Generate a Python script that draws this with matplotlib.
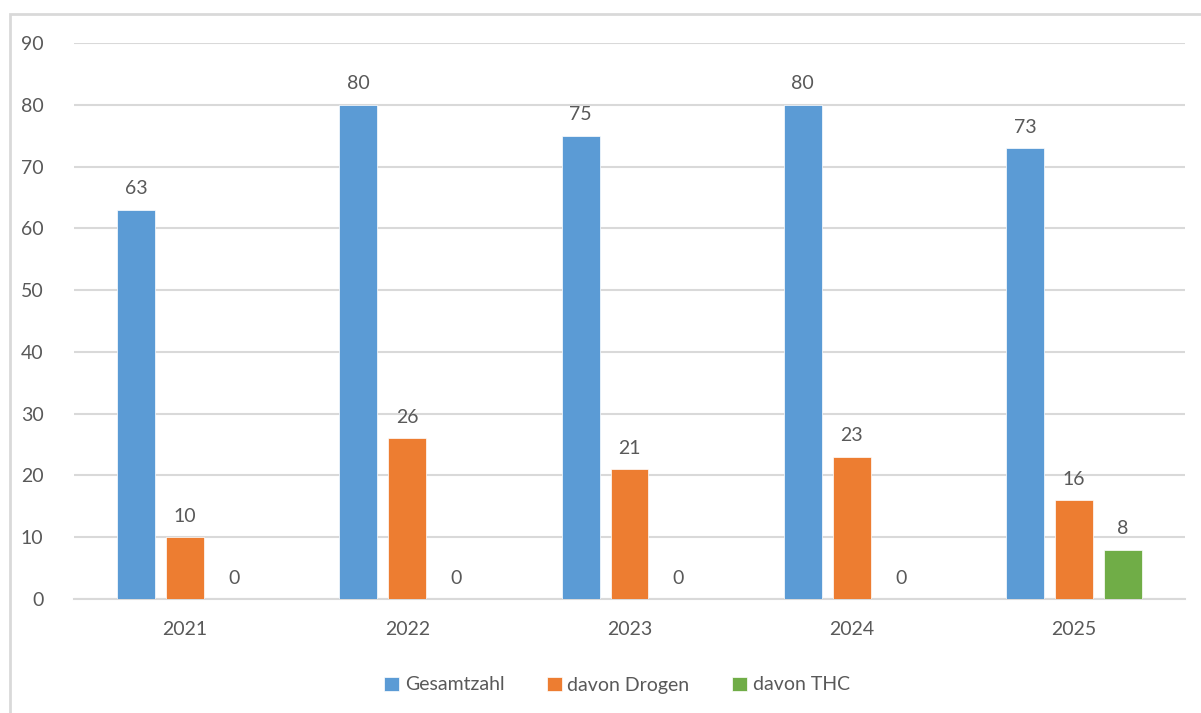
import matplotlib.pyplot as plt
import numpy as np
from matplotlib.patches import Rectangle

plt.rcParams['font.family'] = ['Lato', 'DejaVu Sans']

# Data
years = ['2021', '2022', '2023', '2024', '2025']
gesamtzahl = [63, 80, 75, 80, 73]
drogen = [10, 26, 21, 23, 16]
thc = [0, 0, 0, 0, 8]

series = [
    ('Gesamtzahl', gesamtzahl, '#5B9BD5'),
    ('davon Drogen', drogen, '#ED7D31'),
    ('davon THC', thc, '#70AD47'),
]
text_col = '#595959'

fig = plt.figure(figsize=(12.01, 7.13), dpi=100)
ax = fig.add_axes([74 / 1201, 114 / 713, 1111 / 1201, 556 / 713])

# chart frame (left and top edges only are visible)
fig.patches.append(Rectangle((10 / 1201, -0.05), 1.2, (713 - 14) / 713 + 0.05,
                             transform=fig.transFigure, fill=False,
                             edgecolor='#d9d9d9', linewidth=2))

x = np.arange(len(years))
width = 0.171
step = 0.22
for i, (name, vals, col) in enumerate(series):
    pos = x + (i - 1) * step
    bars = ax.bar(pos, vals, width, color=col, label=name,
                  edgecolor='white', linewidth=0.5, zorder=3)
    for b, v in zip(bars, vals):
        ax.annotate(str(v), (b.get_x() + b.get_width() / 2, v),
                    xytext=(0, 9), textcoords='offset points',
                    ha='center', va='bottom', fontsize=14, color=text_col)

ax.set_xlim(-0.5, len(years) - 0.5)
ax.set_ylim(0, 90)
ax.set_yticks(np.arange(0, 91, 10))
ax.set_xticks(x)
ax.set_xticklabels(years)
ax.grid(axis='y', color='#d9d9d9', linewidth=1.5, zorder=0)
ax.set_axisbelow(True)
for s in ax.spines.values():
    s.set_visible(False)
ax.spines['bottom'].set_visible(True)
ax.spines['bottom'].set_color('#d9d9d9')
ax.spines['bottom'].set_linewidth(1.5)
ax.tick_params(length=0, labelsize=14, colors=text_col)
ax.tick_params(axis='x', pad=16)
ax.tick_params(axis='y', pad=22)

fig.legend(loc='center', bbox_to_anchor=(617 / 1201, 1 - 685 / 713), ncol=3,
           frameon=False, fontsize=14, labelcolor=text_col,
           handlelength=0.75, handleheight=0.75, handletextpad=0.3,
           columnspacing=2.2)

plt.savefig('out.png', dpi=100)
